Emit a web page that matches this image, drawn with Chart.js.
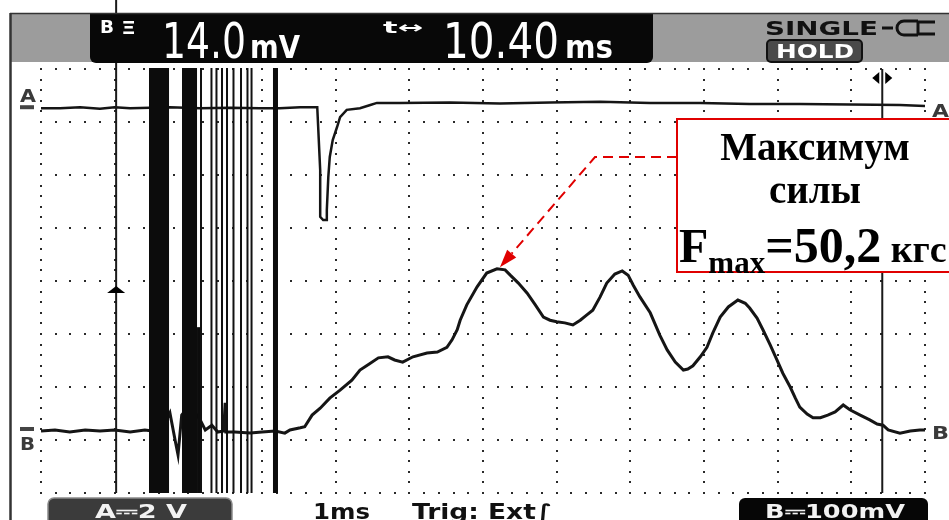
<!DOCTYPE html>
<html><head><meta charset="utf-8">
<script src="https://cdn.jsdelivr.net/npm/chart.js@4"></script>
<style>html,body{margin:0;padding:0;background:#fff;overflow:hidden}canvas{display:block}</style>
</head><body>
<canvas id="c" width="949" height="520"></canvas>
<script>
// ---- values: time in ms (1 ms/div), amplitude in divisions (0 = bottom line) ----
const timeA  = [0,0.26,0.53,0.80,1.00,1.21,1.48,1.75,2.16,2.57,2.97,3.24,3.52,3.75,3.76,3.79,3.79,3.83,3.87,3.88,3.90,3.92,3.96,4.02,4.06,4.15,4.33,4.47,4.56,4.87,5.55,6.23,6.91,7.59,8.27,8.95,9.62,10.30,10.98,11.66,12.0];
const levelA = [7.26,7.26,7.28,7.25,7.28,7.26,7.27,7.28,7.26,7.27,7.26,7.26,7.28,7.28,7.28,6.09,5.21,5.15,5.15,5.34,5.96,6.34,6.66,6.91,7.09,7.23,7.26,7.32,7.36,7.36,7.37,7.35,7.37,7.38,7.36,7.36,7.34,7.34,7.33,7.32,7.30];

const timeB  = [0,0.19,0.39,0.60,0.80,1.00,1.21,1.41,1.62,1.75,1.82,1.86,1.91,2.02,2.16,2.23,2.32,2.40,2.48,2.50,2.51,2.63,2.84,3.00,3.18,3.31,3.38,3.52,3.58,3.68,3.79,3.92,4.06,4.22,4.33,4.44,4.58,4.71,4.80,4.91,5.05,5.24,5.38,5.51,5.58,5.65,5.69,5.78,5.92,6.05,6.19,6.30,6.37,6.48,6.60,6.71,6.82,6.91,7.00,7.11,7.22,7.32,7.41,7.49,7.59,7.68,7.79,7.89,7.97,8.04,8.13,8.27,8.40,8.50,8.61,8.72,8.78,8.85,8.95,9.04,9.12,9.22,9.33,9.46,9.56,9.62,9.72,9.80,9.90,9.99,10.07,10.17,10.24,10.30,10.40,10.48,10.58,10.68,10.78,10.89,10.98,11.12,11.25,11.35,11.43,11.50,11.66,11.80,11.93,12.0];
const levelB = [1.17,1.19,1.15,1.19,1.17,1.19,1.15,1.19,1.15,1.51,1.00,0.72,1.47,1.66,1.38,1.19,1.28,1.15,1.17,1.70,1.15,1.15,1.13,1.15,1.17,1.13,1.19,1.23,1.25,1.47,1.60,1.79,1.94,2.13,2.32,2.42,2.55,2.57,2.51,2.47,2.57,2.64,2.66,2.75,2.89,3.08,3.26,3.55,3.89,4.15,4.23,4.21,4.11,3.96,3.77,3.55,3.32,3.26,3.23,3.21,3.17,3.26,3.36,3.45,3.70,3.96,4.13,4.19,4.11,3.92,3.70,3.40,2.98,2.70,2.47,2.32,2.34,2.40,2.57,2.75,3.02,3.32,3.51,3.64,3.58,3.49,3.30,3.08,2.79,2.51,2.26,2.00,1.79,1.62,1.49,1.42,1.42,1.47,1.53,1.66,1.57,1.47,1.38,1.30,1.28,1.19,1.13,1.17,1.19,1.19];

// cursor times (ms) and trigger level (div)
const cursorTimes = [1.02, 11.42];
const triggerLevel = 3.83;
// saturated noise bursts on the display: [start ms, end ms, top level div]
const burstBands = [[1.466,1.738,8],[1.914,2.118,8],[2.118,2.179,3.11],[3.149,3.217,8]];
const burstLines = [2.172,2.314,2.382,2.457,2.525,2.613,2.715,2.803,2.858];
// maximum force peak (annotation target)
const peakTime = 6.23, peakLevel = 4.26;

const headerLeft  = ['B', 'Ξ', '14.0', 'mV', 't↔', '10.40', 'ms'];
const headerRight = ['SINGLE', 'HOLD'];
const footerTexts = ['A⎓2 V', '1ms', 'Trig: Ext∫', 'B⎓100mV'];
const noteLines   = ['Максимум', 'силы'];
const noteFormula = ['F', 'max', '=50,2', ' кгс'];

const X_DIV = 12, Y_DIV = 8, SUB = 5;

function fitText(ctx, text, x, yBase, w, font, color) {
  ctx.save();
  ctx.font = font; ctx.fillStyle = color;
  ctx.textAlign = 'left'; ctx.textBaseline = 'alphabetic';
  const m = ctx.measureText(text).width;
  ctx.translate(x, yBase); ctx.scale(w / m, 1);
  ctx.fillText(text, 0, 0);
  ctx.restore();
}
function rr(ctx, x, y, w, h, r) { ctx.beginPath(); ctx.roundRect(x, y, w, h, r); }

const scopePlugin = {
  id: 'scope',
  beforeDatasetsDraw(chart) {
    const {ctx, scales: {x, y}} = chart;
    ctx.save();
    ctx.fillStyle = '#2a2a2a';
    for (let t = 0; t <= X_DIV; t++) {
      const px = Math.round(x.getPixelForValue(t));
      for (let k = 0; k <= Y_DIV * SUB; k++) {
        const py = Math.round(y.getPixelForValue(k / SUB));
        ctx.fillRect(px - 1, py - 1, 2, 2);
      }
    }
    for (let d = 0; d <= Y_DIV; d++) {
      const py = Math.round(y.getPixelForValue(d));
      for (let k = 0; k <= X_DIV * SUB; k++) {
        const px = Math.round(x.getPixelForValue(k / SUB));
        ctx.fillRect(px - 1, py - 1, 2, 2);
      }
    }
    ctx.restore();
  },
  afterDatasetsDraw(chart) {
    const {ctx, scales: {x, y}} = chart;
    const bottom = y.getPixelForValue(0);
    ctx.save();
    ctx.fillStyle = '#0c0c0c';
    burstBands.forEach(([a, b, top]) => {
      const x1 = x.getPixelForValue(a), x2 = x.getPixelForValue(b);
      const yt = y.getPixelForValue(top) - 1;
      ctx.fillRect(x1, yt, x2 - x1, bottom - yt);
    });
    ctx.strokeStyle = '#111'; ctx.lineWidth = 2;
    burstLines.forEach(t => {
      const px = x.getPixelForValue(t);
      ctx.beginPath(); ctx.moveTo(px, y.getPixelForValue(8) - 1); ctx.lineTo(px, bottom); ctx.stroke();
    });
    // cursors
    ctx.strokeStyle = '#1a1a1a'; ctx.lineWidth = 2;
    const c1 = x.getPixelForValue(cursorTimes[0]), c2 = x.getPixelForValue(cursorTimes[1]);
    ctx.beginPath(); ctx.moveTo(c1, 0); ctx.lineTo(c1, bottom); ctx.stroke();
    ctx.beginPath(); ctx.moveTo(c2, y.getPixelForValue(8)); ctx.lineTo(c2, bottom); ctx.stroke();
    // trigger marker
    const ty = y.getPixelForValue(triggerLevel);
    ctx.fillStyle = '#000';
    ctx.beginPath(); ctx.moveTo(c1 - 9, ty + 3); ctx.lineTo(c1 + 9, ty + 3); ctx.lineTo(c1, ty - 4); ctx.closePath(); ctx.fill();
    // cursor 2 marker
    const my = y.getPixelForValue(8) + 9;
    ctx.beginPath(); ctx.moveTo(c2 - 10, my); ctx.lineTo(c2 - 3, my - 6); ctx.lineTo(c2 - 3, my + 6); ctx.closePath(); ctx.fill();
    ctx.beginPath(); ctx.moveTo(c2 + 10, my); ctx.lineTo(c2 + 3, my - 6); ctx.lineTo(c2 + 3, my + 6); ctx.closePath(); ctx.fill();
    // channel markers
    const aY = y.getPixelForValue(levelA[0]);
    const bY = y.getPixelForValue(levelB[0]);
    fitText(ctx, 'A', 20, aY - 6, 16, 'bold 18px DejaVu Sans', '#3a3a3a');
    ctx.fillStyle = '#444'; ctx.fillRect(20, aY - 3, 14, 4);
    ctx.fillStyle = '#444'; ctx.fillRect(20, bY - 4, 14, 4);
    fitText(ctx, 'B', 20, bY + 19, 15, 'bold 18px DejaVu Sans', '#3a3a3a');
    fitText(ctx, 'A', 932, y.getPixelForValue(levelA[levelA.length-1]) + 11, 17, 'bold 18px DejaVu Sans', '#3a3a3a');
    fitText(ctx, 'B', 932, bY + 8, 17, 'bold 18px DejaVu Sans', '#3a3a3a');
    ctx.restore();
  },
  afterDraw(chart) {
    const {ctx, scales: {x, y}} = chart;
    ctx.save();
    // header band
    ctx.fillStyle = '#9c9c9c'; ctx.fillRect(10, 13, 939, 49);
    ctx.fillStyle = '#080808'; rr(ctx, 90, 13, 563, 50, [0, 0, 6, 6]); ctx.fill();
    ctx.strokeStyle = '#333'; ctx.lineWidth = 1.5;
    ctx.beginPath(); ctx.moveTo(10, 13.5); ctx.lineTo(949, 13.5); ctx.stroke();
    ctx.lineWidth = 2.5;
    ctx.beginPath(); ctx.moveTo(10.5, 13); ctx.lineTo(10.5, 520); ctx.stroke();
    const W = '#ffffff';
    fitText(ctx, headerLeft[0], 100, 33, 14, 'bold 17px DejaVu Sans', W);
    fitText(ctx, headerLeft[1], 121, 34, 15, 'bold 17px DejaVu Sans', W);
    fitText(ctx, headerLeft[2], 162, 58, 84, '50px "Liberation Sans Narrow","DejaVu Sans Condensed",sans-serif', W);
    fitText(ctx, headerLeft[3], 250, 58, 50, 'bold 32px "DejaVu Sans Condensed","DejaVu Sans"', W);
    fitText(ctx, headerLeft[4], 383, 33, 40, 'bold 16px DejaVu Sans', W);
    fitText(ctx, headerLeft[5], 443, 58, 116, '50px "Liberation Sans Narrow","DejaVu Sans Condensed",sans-serif', W);
    fitText(ctx, headerLeft[6], 565, 58, 48, 'bold 32px "DejaVu Sans Condensed","DejaVu Sans"', W);
    fitText(ctx, headerRight[0], 765, 35, 113, 'bold 20px DejaVu Sans', '#111');
    // plug icon
    ctx.strokeStyle = '#111'; ctx.lineWidth = 3;
    ctx.beginPath(); ctx.moveTo(882, 28); ctx.lineTo(893, 28); ctx.stroke();
    ctx.beginPath(); ctx.arc(904, 28, 7, Math.PI * 0.5, Math.PI * 1.5); ctx.stroke();
    ctx.beginPath(); ctx.moveTo(935, 22); ctx.lineTo(918, 22); ctx.lineTo(918, 34); ctx.lineTo(935, 34); ctx.stroke();
    ctx.beginPath(); ctx.moveTo(904, 21); ctx.lineTo(918, 21); ctx.moveTo(904, 35); ctx.lineTo(918, 35); ctx.stroke();
    // HOLD
    ctx.fillStyle = '#4a4a4a'; ctx.strokeStyle = '#111'; ctx.lineWidth = 2;
    rr(ctx, 767, 40, 95, 22, 4); ctx.fill(); ctx.stroke();
    fitText(ctx, headerRight[1], 776, 58, 78, 'bold 19px DejaVu Sans', W);
    // footer
    ctx.fillStyle = '#3b3b3b'; ctx.strokeStyle = '#8a8a8a'; ctx.lineWidth = 1.5;
    rr(ctx, 48, 498, 184, 30, [6, 6, 0, 0]); ctx.fill(); ctx.stroke();
    fitText(ctx, footerTexts[0], 95, 518, 92, 'bold 20px DejaVu Sans', '#f2f2f2');
    fitText(ctx, footerTexts[1], 313, 519, 57, 'bold 21px DejaVu Sans', '#111');
    fitText(ctx, footerTexts[2], 412, 519, 140, 'bold 21px DejaVu Sans', '#111');
    ctx.fillStyle = '#060606';
    rr(ctx, 739, 498, 189, 30, [6, 6, 0, 0]); ctx.fill();
    fitText(ctx, footerTexts[3], 765, 518, 140, 'bold 20px DejaVu Sans', '#f2f2f2');
    // annotation
    const tipX = x.getPixelForValue(peakTime), tipY = y.getPixelForValue(peakLevel);
    const boxL = 677, boxT = 119, boxB = 272;
    ctx.fillStyle = '#fff'; ctx.fillRect(boxL, boxT, 300, boxB - boxT);
    ctx.strokeStyle = '#e00000'; ctx.lineWidth = 2;
    ctx.strokeRect(boxL, boxT, 300, boxB - boxT);
    const elbowX = 595, elbowY = 157;
    const dx = tipX - elbowX, dy = tipY - elbowY, L = Math.hypot(dx, dy);
    const ux = dx / L, uy = dy / L, head = 18;
    ctx.setLineDash([10, 6]);
    ctx.beginPath(); ctx.moveTo(boxL, elbowY); ctx.lineTo(elbowX, elbowY);
    ctx.lineTo(tipX - ux * head, tipY - uy * head); ctx.stroke();
    ctx.setLineDash([]);
    ctx.fillStyle = '#e00000';
    ctx.beginPath(); ctx.moveTo(tipX, tipY);
    ctx.lineTo(tipX - ux * head - uy * 6, tipY - uy * head + ux * 6);
    ctx.lineTo(tipX - ux * head + uy * 6, tipY - uy * head - ux * 6);
    ctx.closePath(); ctx.fill();
    ctx.fillStyle = '#000'; ctx.textAlign = 'center'; ctx.textBaseline = 'alphabetic';
    ctx.font = 'bold 39px "Liberation Serif","DejaVu Serif",serif';
    ctx.fillText(noteLines[0], 815, 160);
    ctx.fillText(noteLines[1], 815, 203);
    ctx.textAlign = 'left';
    let cx = 679;
    ctx.font = 'bold 48px "Liberation Serif","DejaVu Serif",serif';
    ctx.fillText(noteFormula[0], cx, 262); cx += ctx.measureText(noteFormula[0]).width;
    ctx.font = 'bold 31px "Liberation Serif","DejaVu Serif",serif';
    ctx.fillText(noteFormula[1], cx, 273); cx += ctx.measureText(noteFormula[1]).width;
    ctx.font = 'bold 50px "Liberation Serif","DejaVu Serif",serif';
    ctx.fillText(noteFormula[2], cx, 262); cx += ctx.measureText(noteFormula[2]).width;
    ctx.font = 'bold 38px "Liberation Serif","DejaVu Serif",serif';
    ctx.fillText(noteFormula[3], cx, 262);
    ctx.restore();
  }
};

new Chart(document.getElementById('c'), {
  type: 'line',
  data: {
    datasets: [
      { label: 'A', data: timeA.map((t, i) => ({x: t, y: levelA[i]})), borderColor: '#151515', borderWidth: 2.5, pointRadius: 0, tension: 0 },
      { label: 'B', data: timeB.map((t, i) => ({x: t, y: levelB[i]})), borderColor: '#151515', borderWidth: 3, pointRadius: 0, tension: 0 }
    ]
  },
  options: {
    responsive: false, animation: false, devicePixelRatio: 1,
    layout: { padding: { left: 41, right: 24, top: 69, bottom: 27 } },
    plugins: { legend: { display: false }, tooltip: { enabled: false } },
    scales: {
      x: { type: 'linear', min: 0, max: X_DIV, display: false },
      y: { type: 'linear', min: 0, max: Y_DIV, display: false }
    }
  },
  plugins: [scopePlugin]
});
</script>
</body></html>
